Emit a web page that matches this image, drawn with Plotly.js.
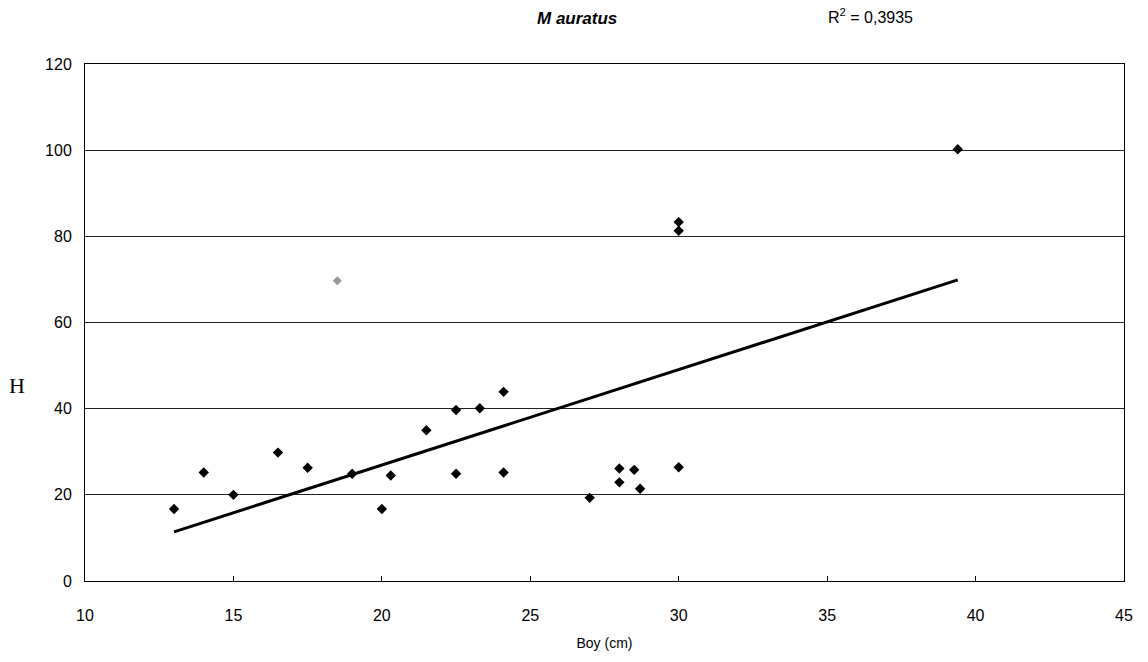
<!DOCTYPE html>
<html>
<head>
<meta charset="utf-8">
<script src="https://cdn.plot.ly/plotly-3.0.1.min.js"></script>
<style>html,body{margin:0;padding:0;background:#fff;}#chart{width:1148px;height:662px;}</style>
</head>
<body>
<div id="chart"></div>
<script>
// Measured data (Boy in cm, H)
const boyCm = [13.0, 14.0, 15.0, 16.5, 17.5, 19.0, 20.0, 20.3, 21.5, 22.5, 22.5, 23.3, 24.1, 24.1, 27.0, 28.0, 28.0, 28.5, 28.7, 30.0, 30.0, 30.0, 39.4];
const hValues = [16.7, 25.2, 20.0, 29.8, 26.3, 24.9, 16.7, 24.5, 35.0, 39.7, 24.9, 40.1, 43.9, 25.2, 19.3, 26.1, 22.9, 25.8, 21.4, 26.4, 83.3, 81.3, 100.2];
// faded (lighter) point
const fadedBoy = [18.5];
const fadedH = [69.7];
// Trend line endpoints
const trendBoy = [13.0, 39.4];
const trendH = [11.4, 69.9];
const titleText = "M auratus";
const r2Text = "R<sup>2</sup> = 0,3935";
const xTitle = "Boy (cm)";
const yTitle = "H";
const xTicks = [10, 15, 20, 25, 30, 35, 40, 45];
const yTicks = [0, 20, 40, 60, 80, 100, 120];

const traces = [
  {x: trendBoy, y: trendH, mode: 'lines', line: {color: '#000', width: 3}, hoverinfo: 'skip'},
  {x: boyCm, y: hValues, mode: 'markers', marker: {symbol: 'diamond', size: 8, color: '#000'}},
  {x: fadedBoy, y: fadedH, mode: 'markers', marker: {symbol: 'diamond', size: 7, color: '#999'}}
];

const layout = {
  width: 1148, height: 662,
  margin: {l: 85, r: 24, t: 64, b: 81},
  paper_bgcolor: '#fff', plot_bgcolor: '#fff',
  showlegend: false,
  font: {family: 'Liberation Sans, Arial, sans-serif', color: '#000', size: 16},
  xaxis: {
    range: [10, 45], tickvals: xTicks, ticktext: xTicks.map(String),
    showgrid: false, zeroline: false,
    showline: true, linecolor: '#000', linewidth: 1, mirror: true,
    ticks: 'inside', ticklen: 5, tickcolor: '#000',
    tickfont: {size: 16}, ticklabelstandoff: 20,
    title: {text: xTitle, font: {size: 14}, standoff: 14}
  },
  yaxis: {
    range: [0, 120], tickvals: yTicks, ticktext: yTicks.map(String),
    showgrid: true, gridcolor: '#222', gridwidth: 1, zeroline: false,
    showline: true, linecolor: '#000', linewidth: 1, mirror: true,
    ticks: '', tickfont: {size: 16}, ticklabelstandoff: 9
  },
  annotations: [
    {xref: 'paper', yref: 'paper', x: (577 - 85) / 1039, y: 1 + (64 - 19) / 517, text: '<b><i>' + titleText + '</i></b>',
     showarrow: false, font: {size: 17}, xanchor: 'center', yanchor: 'middle'},
    {xref: 'paper', yref: 'paper', x: (870 - 85) / 1039, y: 1 + (64 - 16) / 517, text: r2Text,
     showarrow: false, font: {size: 16}, xanchor: 'center', yanchor: 'middle'},
    {xref: 'paper', yref: 'paper', x: (17 - 85) / 1039, y: (581 - 385) / 517, text: yTitle,
     showarrow: false, font: {family: 'Liberation Serif, DejaVu Serif, serif', size: 22}, xanchor: 'center', yanchor: 'middle'}
  ]
};

Plotly.newPlot('chart', traces, layout, {displayModeBar: false, staticPlot: true});
</script>
</body>
</html>
